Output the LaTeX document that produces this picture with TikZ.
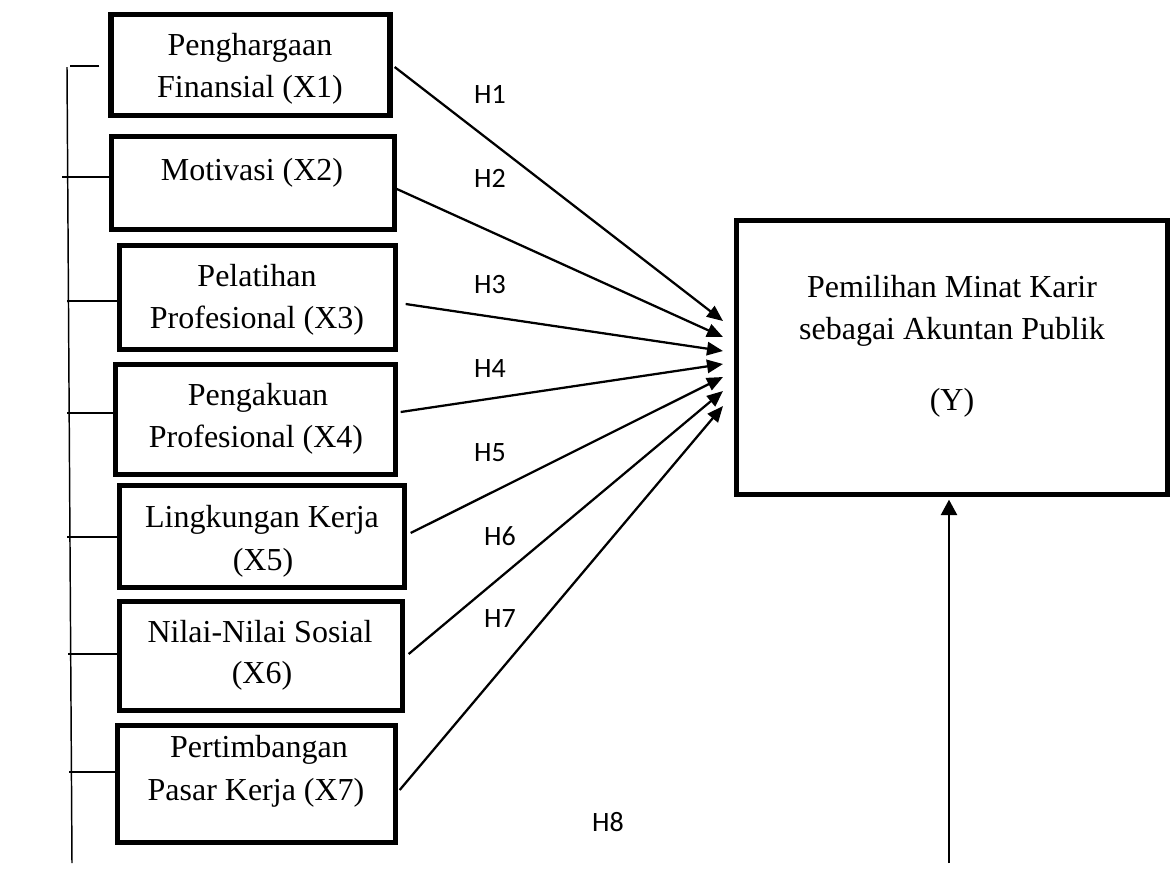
\documentclass[tikz,border=0pt]{standalone}
\usepackage{fontspec}
\setmainfont{Liberation Serif}
\newfontfamily\hfont{Carlito}
\usetikzlibrary{arrows.meta,fit,calc}
\begin{document}
\begin{tikzpicture}[x=0.75pt,y=-0.75pt,
  box/.style={draw,line width=4pt,rectangle,inner sep=0pt,fit={#1}},
  txt/.style={anchor=base,inner sep=0pt,font=\fontsize{24}{29}\selectfont},
  hlab/.style={anchor=base,inner sep=0pt,font=\hfont\fontsize{21}{25}\selectfont},
  arr/.style={line width=1.7pt,-{Triangle[length=12pt,width=10pt]}},
  bracket/.style={line width=1.1pt}]
\useasboundingbox (0,0) rectangle (1171,869);
% boxes
\node[box={(111,14.5) (390,115.5)}] (x1) {};
\node[box={(111.5,136.5) (394.5,229.5)}] (x2) {};
\node[box={(119.5,245.5) (395.5,349.5)}] (x3) {};
\node[box={(115.5,364.5) (395.5,474.5)}] (x4) {};
\node[box={(119.5,485.5) (404.5,587.5)}] (x5) {};
\node[box={(119.5,601.5) (402.5,710.5)}] (x6) {};
\node[box={(117.5,725.5) (395.5,842.5)}] (x7) {};
\node[box={(736.5,220.5) (1167.5,494.5)}] (y) {};
% texts
\node[txt] (t1a) at (250,55) {Penghargaan};
\node[txt] (t1b) at (250,97) {Finansial (X1)};
\node[txt] (t2) at (252,180) {Motivasi (X2)};
\node[txt] (t3a) at (257,286) {Pelatihan};
\node[txt] (t3b) at (257,328) {Profesional (X3)};
\node[txt] (t4a) at (258,405) {Pengakuan};
\node[txt] (t4b) at (256,447) {Profesional (X4)};
\node[txt] (t5a) at (262,527) {Lingkungan Kerja};
\node[txt] (t5b) at (263,570) {(X5)};
\node[txt] (t6a) at (260,642) {Nilai-Nilai Sosial};
\node[txt] (t6b) at (262,683) {(X6)};
\node[txt] (t7a) at (259,757) {Pertimbangan};
\node[txt] (t7b) at (256,800) {Pasar Kerja (X7)};
\node[txt] (tya) at (952,297) {Pemilihan Minat Karir};
\node[txt] (tyb) at (952,339) {sebagai Akuntan Publik};
\node[txt] (tyc) at (952,410) {(Y)};
% hypothesis labels
\node[hlab] (h1) at (490,103) {H1};
\node[hlab] (h2) at (490,187) {H2};
\node[hlab] (h3) at (490,293) {H3};
\node[hlab] (h4) at (490,377) {H4};
\node[hlab] (h5) at (490,461) {H5};
\node[hlab] (h6) at (500,545) {H6};
\node[hlab] (h7) at (500,627) {H7};
\node[hlab] (h8) at (608,831) {H8};
% arrow tips
\coordinate (e1) at (723,321);
\coordinate (e2) at (723,337);
\coordinate (e3) at (723,351);
\coordinate (e4) at (723,364);
\coordinate (e5) at (723,377);
\coordinate (e6) at (723,391);
\coordinate (e7) at (723,406);
\draw[arr] ($(x1.east)+(2,2)$) -- (e1);
\draw[arr] ($(x2.east)+(-2.5,5)$) -- (e2);
\draw[arr] ($(x3.east)+(7.5,6.5)$) -- (e3);
\draw[arr] ($(x4.east)+(2.5,-7.5)$) -- (e4);
\draw[arr] ($(x5.east)+(3.5,-3.5)$) -- (e5);
\draw[arr] ($(x6.east)+(3.5,-2)$) -- (e6);
\draw[arr] ($(x7.east)+(1.5,6)$) -- (e7);
% bottom arrow into Y
\coordinate (yb) at (949,863);
\draw[line width=1.7pt,-{Triangle[length=11.5pt,width=12pt]}] (yb) -- ($(yb |- y.south)+(0,2.5)$);
% left bracket
\coordinate (lt) at (67,67);
\coordinate (lb) at (72,863);
\draw[bracket] (lt) -- (lb);
\draw[bracket] ($(x1.west)+(-9,1)$) -- ++(-29,0);
\draw[bracket] ($(x2.west)+(0,-6)$) -- ++(-46.5,0);
\draw[bracket] ($(x3.west)+(0,3.5)$) -- ++(-50,0);
\draw[bracket] ($(x4.west)+(0,-6.5)$) -- ++(-46,0);
\draw[bracket] ($(x5.west)+(0,0.5)$) -- ++(-49.5,0);
\draw[bracket] ($(x6.west)+(0,-2)$) -- ++(-49,0);
\draw[bracket] ($(x7.west)+(0,-12)$) -- ++(-46,0);
\end{tikzpicture}
\end{document}
